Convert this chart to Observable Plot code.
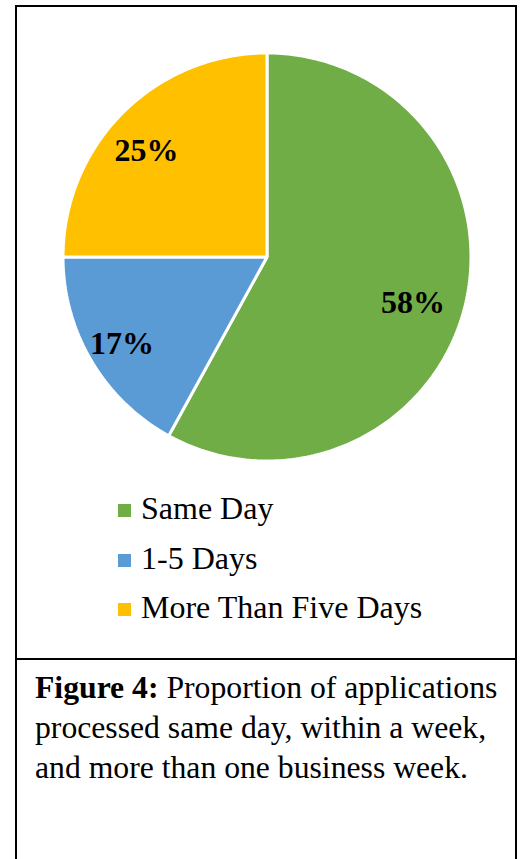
<!DOCTYPE html>
<html>
<head>
<meta charset="utf-8">
<script src="https://cdn.jsdelivr.net/npm/d3@7"></script>
<script src="https://cdn.jsdelivr.net/npm/@observablehq/plot@0.6"></script>
<style>
  html, body { margin: 0; padding: 0; background: #fff; width: 525px; height: 859px; overflow: hidden; }
  body { position: relative; font-family: "Liberation Serif", "Times New Roman", serif; color: #000; }
  #frame { position: absolute; left: 15px; top: 5px; width: 502px; height: 900px; box-sizing: border-box; border: 2px solid #000; }
  #divider { position: absolute; left: 15px; top: 658px; width: 502px; height: 2px; background: #000; }
  #chart { position: absolute; left: 0; top: 0; }
  #legend { position: absolute; left: 118px; top: 484px; font-size: 32px; }
  .row { position: relative; height: 49.5px; line-height: 49.5px; white-space: nowrap; }
  .sw { position: absolute; left: 0; top: 20px; width: 13px; height: 13px; }
  .lt { position: absolute; left: 23px; top: 0; }
  #caption { position: absolute; left: 35px; top: 668px; font-size: 31.7px; line-height: 40px; white-space: nowrap; }
</style>
</head>
<body>
<div id="frame"></div>
<div id="divider"></div>
<div id="chart"></div>
<div id="legend"></div>
<div id="caption"></div>
<script>
const categories = ["Same Day", "1-5 Days", "More Than Five Days"];
const shares = [58, 17, 25];
const labels = ["58%", "17%", "25%"];
const colors = ["#70AD47", "#5B9BD5", "#FFC000"];
const captionBold = "Figure 4:";
const captionLines = [" Proportion of applications", "processed same day, within a week,", "and more than one business week."];

// Build slice outlines (unit circle, clockwise from 12 o'clock)
const total = d3.sum(shares);
const slicePts = [];
const labelPts = [];
let acc = 0;
categories.forEach((c, i) => {
  const a0 = acc / total * 2 * Math.PI;
  acc += shares[i];
  const a1 = acc / total * 2 * Math.PI;
  slicePts.push({cat: c, x: 0, y: 0});
  const n = Math.max(2, Math.ceil((a1 - a0) / (Math.PI / 180)));
  for (let k = 0; k <= n; k++) {
    const a = a0 + (a1 - a0) * k / n;
    slicePts.push({cat: c, x: Math.sin(a), y: Math.cos(a)});
  }
  const am = (a0 + a1) / 2;
  labelPts.push({cat: c, label: labels[i], x: 0.78 * Math.sin(am), y: 0.78 * Math.cos(am)});
});

const plot = Plot.plot({
  width: 525,
  height: 480,
  marginLeft: 62.5,
  marginRight: 54.5,
  marginTop: 52.5,
  marginBottom: 19.5,
  x: {domain: [-1, 1], axis: null},
  y: {domain: [-1, 1], axis: null},
  color: {domain: categories, range: colors},
  style: {background: "transparent", overflow: "visible"},
  marks: [
    Plot.line(slicePts, {x: "x", y: "y", z: "cat", fill: "cat", stroke: "#fff", strokeWidth: 3, strokeLinejoin: "miter", curve: "linear-closed"}),
    Plot.text(labelPts, {x: "x", y: "y", text: "label", fill: "#000", fontSize: 32, fontWeight: "bold", fontFamily: "Liberation Serif", textAnchor: "middle", dx: -8, dy: 6})
  ]
});
document.getElementById("chart").appendChild(plot);

// Legend
const leg = document.getElementById("legend");
categories.forEach((c, i) => {
  const row = document.createElement("div");
  row.className = "row";
  const sw = document.createElement("div");
  sw.className = "sw";
  sw.style.background = colors[i];
  const t = document.createElement("div");
  t.className = "lt";
  t.textContent = c;
  row.appendChild(sw);
  row.appendChild(t);
  leg.appendChild(row);
});

// Caption
const cap = document.getElementById("caption");
const b = document.createElement("b");
b.textContent = captionBold;
cap.appendChild(b);
cap.appendChild(document.createTextNode(captionLines[0]));
for (let i = 1; i < captionLines.length; i++) {
  cap.appendChild(document.createElement("br"));
  cap.appendChild(document.createTextNode(captionLines[i]));
}
</script>
</body>
</html>
